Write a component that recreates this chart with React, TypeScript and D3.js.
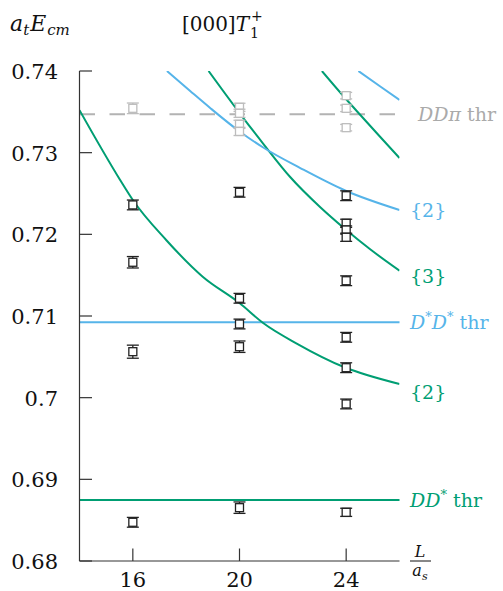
import React from "react";
import * as d3 from "d3";

// ---------- data ----------
const X_DOMAIN: [number, number] = [14, 26];
const Y_DOMAIN: [number, number] = [0.68, 0.74];
const X_TICKS = [16, 20, 24];
const Y_TICKS = [0.68, 0.69, 0.7, 0.71, 0.72, 0.73, 0.74];
const Y_TICK_LABELS = ["0.68", "0.69", "0.7", "0.71", "0.72", "0.73", "0.74"];

// thresholds
const THR_DDPI = 0.7347;
const THR_DSTAR_DSTAR = 0.70923;
const THR_DDSTAR = 0.68747;

// spectrum levels [L, E, err] (black)
const levels: [number, number, number][] = [
  [16, 0.7236, 0.0006],
  [16, 0.71658, 0.0007],
  [16, 0.70563, 0.0008],
  [16, 0.68474, 0.0006],
  [20, 0.72515, 0.0006],
  [20, 0.71217, 0.0006],
  [20, 0.70902, 0.0006],
  [20, 0.70624, 0.0007],
  [20, 0.68653, 0.0007],
  [24, 0.72473, 0.0006],
  [24, 0.72135, 0.0005],
  [24, 0.72053, 0.0005],
  [24, 0.71964, 0.0005],
  [24, 0.71432, 0.0006],
  [24, 0.70739, 0.0006],
  [24, 0.70367, 0.0006],
  [24, 0.69923, 0.0006],
  [24, 0.68596, 0.0005],
];

// levels above DDpi threshold [L, E, err] (grey)
const levelsAboveThr: [number, number, number][] = [
  [16, 0.73543, 0.00065],
  [20, 0.73555, 0.0005],
  [20, 0.73482, 0.0005],
  [20, 0.73347, 0.0005],
  [20, 0.7326, 0.0005],
  [24, 0.73698, 0.0004],
  [24, 0.73543, 0.0004],
  [24, 0.73306, 0.0004],
];

// non-interacting curves [L, E]
const greenLow: [number, number][] = [
  [14, 0.7352], [15.5, 0.72678], [16, 0.7242], [17.25, 0.71931], [18.62, 0.71481],
  [20, 0.71159], [20.9, 0.70911], [22.13, 0.70666], [23.94, 0.70372], [26, 0.70167],
];
const greenMid: [number, number][] = [
  [18.84, 0.74], [20.03, 0.73473], [20.9, 0.73106], [21.9, 0.72702], [23.02, 0.72335],
  [23.96, 0.72065], [24.9, 0.71817], [26, 0.71555],
];
const greenHigh: [number, number][] = [
  [23.09, 0.74], [23.96, 0.73669], [24.6, 0.73437], [25.28, 0.73192], [26, 0.72935],
];
const blueLow: [number, number][] = [
  [17.28, 0.74], [18.15, 0.73755], [18.9, 0.73547], [20.03, 0.73253], [20.89, 0.73063],
  [22.28, 0.72812], [23.96, 0.72537], [26, 0.72298],
];
const blueHigh: [number, number][] = [
  [24.46, 0.74], [25.28, 0.7381], [26, 0.73645],
];

// ---------- styles ----------
const GREEN = "#009E73";
const BLUE = "#56B4E9";
const GREY = "#b3b3b3";
const AXIS = "#333333";
const FONT = "DejaVu Serif";

export default function App() {
  const W = 503, H = 591;
  const left = 79.5, right = 399.5, top = 71, bottom = 561;
  const x = d3.scaleLinear().domain(X_DOMAIN).range([left, right]);
  const y = d3.scaleLinear().domain(Y_DOMAIN).range([bottom, top]);
  const line = d3
    .line<[number, number]>()
    .x((d) => x(d[0]))
    .y((d) => y(d[1]))
    .curve(d3.curveMonotoneX);

  const capW = 12, box = 8;
  const point = (d: [number, number, number], i: number, col: string) => {
    const cx = x(d[0]), cy = y(d[1]);
    const y1 = y(d[1] + d[2]), y2 = y(d[1] - d[2]);
    return (
      <g key={i} stroke={col} strokeWidth={1.3}>
        <line x1={cx} x2={cx} y1={y1} y2={y2} />
        <line x1={cx - capW / 2} x2={cx + capW / 2} y1={y1} y2={y1} />
        <line x1={cx - capW / 2} x2={cx + capW / 2} y1={y2} y2={y2} />
        <rect x={cx - box / 2} y={cy - box / 2} width={box} height={box} fill="white" />
      </g>
    );
  };

  const curves: [[number, number][], string][] = [
    [greenLow, GREEN], [greenMid, GREEN], [greenHigh, GREEN], [blueLow, BLUE], [blueHigh, BLUE],
  ];

  return (
    <svg width={W} height={H} fontFamily={FONT} style={{ position: "absolute", left: 0, top: 0, background: "white" }}>
      <defs>
        <clipPath id="plot">
          <rect x={left} y={top} width={right - left} height={bottom - top} />
        </clipPath>
      </defs>

      {/* threshold lines */}
      <line x1={left} x2={right} y1={y(THR_DDPI)} y2={y(THR_DDPI)} stroke={GREY} strokeWidth={2} strokeDasharray="15.5 14.5" />
      <line x1={left} x2={right} y1={y(THR_DSTAR_DSTAR)} y2={y(THR_DSTAR_DSTAR)} stroke={BLUE} strokeWidth={2} />
      <line x1={left} x2={right} y1={y(THR_DDSTAR)} y2={y(THR_DDSTAR)} stroke={GREEN} strokeWidth={2} />

      {/* curves */}
      <g clipPath="url(#plot)" fill="none" strokeWidth={2}>
        {curves.map(([c, col], i) => (
          <path key={i} d={line(c) || ""} stroke={col} />
        ))}
      </g>

      {/* points */}
      <g>{levelsAboveThr.map((d, i) => point(d, i, "#bdbdbd"))}</g>
      <g>{levels.map((d, i) => point(d, i, "#222"))}</g>

      {/* axes */}
      <g stroke={AXIS} strokeWidth={1.2}>
        <line x1={left} x2={left} y1={top} y2={bottom} />
        <line x1={left} x2={right} y1={bottom} y2={bottom} />
        {Y_TICKS.map((t) => (
          <line key={t} x1={left} x2={left + 12.5} y1={y(t)} y2={y(t)} />
        ))}
        {X_TICKS.map((t) => (
          <line key={t} x1={x(t)} x2={x(t)} y1={bottom} y2={bottom - 12.5} />
        ))}
      </g>
      <g fontSize={21} fill="#111">
        {Y_TICKS.map((t, i) => (
          <text key={t} x={58} y={y(t) + 8} textAnchor="end">{Y_TICK_LABELS[i]}</text>
        ))}
        {X_TICKS.map((t) => (
          <text key={t} x={x(t)} y={587} textAnchor="middle">{String(t)}</text>
        ))}
      </g>

      {/* axis labels */}
      <text x={10} y={31} fontSize={22} fill="#111">
        <tspan fontStyle="italic">a</tspan>
        <tspan fontStyle="italic" fontSize={15} dy={4}>t</tspan>
        <tspan fontStyle="italic" dy={-4} dx={1}>E</tspan>
        <tspan fontStyle="italic" fontSize={15} dy={4} dx={1}>cm</tspan>
      </text>
      <text x={249} y={31} fontSize={20} fill="#111" textAnchor="end">
        [000]<tspan fontStyle="italic">T</tspan>
      </text>
      <text x={251} y={21} fontSize={14} fill="#111">+</text>
      <text x={250} y={38} fontSize={14} fill="#111">1</text>

      <g fontSize={16} fill="#111">
        <text x={420} y={557} textAnchor="middle" fontStyle="italic">L</text>
        <line x1={410} x2={431} y1={561} y2={561} stroke="#111" strokeWidth={1} />
        <text x={417} y={576} textAnchor="middle" fontStyle="italic">a</text>
        <text x={422} y={580} fontSize={11} fontStyle="italic">s</text>
      </g>

      {/* right-hand labels */}
      <g fontSize={19}>
        <text x={418} y={y(THR_DDPI) + 7} fill="#aaaaaa">
          <tspan fontStyle="italic">DDπ</tspan>{" thr"}
        </text>
        <text x={410} y={217} fill={BLUE}>{"{2}"}</text>
        <text x={410} y={283} fill={GREEN}>{"{3}"}</text>
        <text x={410} y={y(THR_DSTAR_DSTAR) + 7} fill={BLUE}>
          <tspan fontStyle="italic">D</tspan>
          <tspan fontSize={13} dy={-8}>*</tspan>
          <tspan fontStyle="italic" dy={8}>D</tspan>
          <tspan fontSize={13} dy={-8}>*</tspan>
          <tspan dy={8}>{" thr"}</tspan>
        </text>
        <text x={410} y={399} fill={GREEN}>{"{2}"}</text>
        <text x={410} y={y(THR_DDSTAR) + 7} fill={GREEN}>
          <tspan fontStyle="italic">DD</tspan>
          <tspan fontSize={13} dy={-8}>*</tspan>
          <tspan dy={8}>{" thr"}</tspan>
        </text>
      </g>
    </svg>
  );
}
